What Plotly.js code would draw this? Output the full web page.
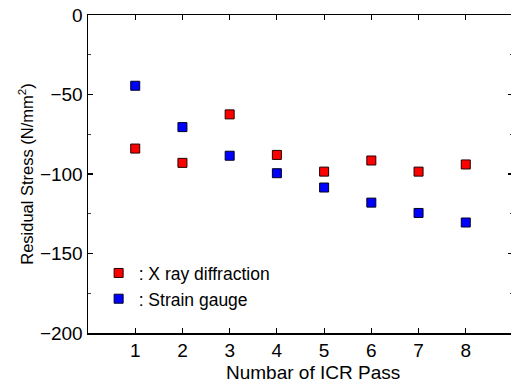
<!DOCTYPE html>
<html>
<head>
<meta charset="utf-8">
<script src="https://cdn.plot.ly/plotly-3.0.1.min.js"></script>
<style>
html,body{margin:0;padding:0;overflow:hidden;background:#fff;}
#chart{width:516px;height:383px;}
</style>
</head>
<body>
<div id="chart"></div>
<script>
const passes = [1, 2, 3, 4, 5, 6, 7, 8];
const xrayStress = [-84, -93, -62.5, -88, -98.5, -91.5, -98.5, -94];
const gaugeStress = [-44.5, -70.5, -88.5, -99.5, -108.5, -118, -124.5, -130.5];
const xTicks = [1, 2, 3, 4, 5, 6, 7, 8];
const yTicks = [0, -50, -100, -150, -200];

const font = "Liberation Sans, Arial, Helvetica, sans-serif";

const traces = [
  {
    x: passes, y: xrayStress, type: "scatter", mode: "markers",
    name: ": X ray diffraction",
    marker: {symbol: "square", size: 9, color: "#ff0000", line: {color: "#200000", width: 1}}
  },
  {
    x: passes, y: gaugeStress, type: "scatter", mode: "markers",
    name: ": Strain gauge",
    marker: {symbol: "square", size: 9, color: "#0000ff", line: {color: "#000020", width: 1}}
  }
];

const layout = {
  width: 516, height: 383,
  margin: {l: 88, r: 3, t: 15, b: 50},
  paper_bgcolor: "#fff", plot_bgcolor: "#fff",
  font: {family: font, size: 17, color: "#000"},
  showlegend: true,
  legend: {
    x: 0.025, y: 0.245, xanchor: "left", yanchor: "top",
    bgcolor: "rgba(0,0,0,0)", borderwidth: 0,
    font: {family: font, size: 17.5, color: "#000"},
    itemwidth: 30, tracegroupgap: 0
  },
  xaxis: {
    range: [0, 9], tickvals: xTicks, ticktext: xTicks.map(String),
    ticks: "inside", ticklen: 5, tickwidth: 1.2, tickcolor: "#000",
    showline: true, linecolor: "#000", linewidth: 1.5, mirror: "ticks",
    showgrid: false, zeroline: false,
    tickfont: {family: font, size: 19}
  },
  yaxis: {
    range: [-200, 0], tickvals: yTicks,
    ticks: "inside", ticklen: 5, tickwidth: 1.2, tickcolor: "#000",
    minor: {dtick: 25, ticks: "inside", ticklen: 3, tickcolor: "#444", tickwidth: 1},
    showline: true, linecolor: "#000", linewidth: 1.5, mirror: "ticks",
    showgrid: false, zeroline: false,
    tickfont: {family: font, size: 19},
    title: {text: "Residual Stress (N/mm<sup>2</sup>)", font: {family: font, size: 16.5}, standoff: 2}
  },
  annotations: [
    {text: "Numbar of ICR Pass", xref: "x", yref: "paper", x: 4.77, y: 0, yshift: -39,
     xanchor: "center", yanchor: "middle", showarrow: false,
     font: {family: font, size: 19, color: "#000"}}
  ]
};

Plotly.newPlot("chart", traces, layout, {displayModeBar: false, staticPlot: true});
</script>
</body>
</html>
